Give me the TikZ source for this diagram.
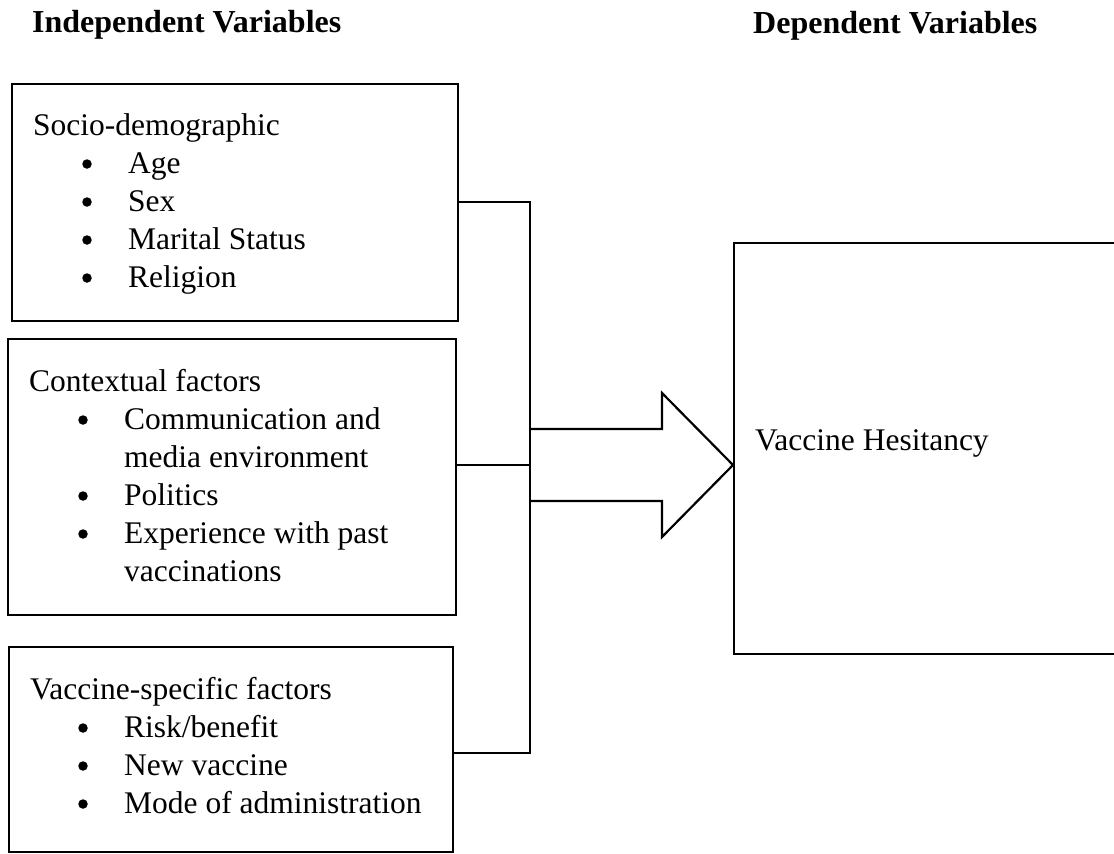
\documentclass[tikz,border=0pt]{standalone}
\usepackage{fontspec}
\setmainfont{Liberation Serif}
\tikzset{
  box/.style={draw, line width=2.2pt, inner sep=0pt, anchor=north west},
  txt/.style={inner sep=0pt, anchor=base west, font=\fontsize{31.5}{38}\selectfont},
  ttl/.style={inner sep=0pt, anchor=base west, font=\fontsize{32}{38}\selectfont\bfseries},
  bul/.style={circle, fill, inner sep=0pt, minimum size=9.5pt},
  conn/.style={line width=1.2pt},
  bigarrow/.style={draw, line width=2.2pt, line join=miter}
}
\begin{document}
\begin{tikzpicture}[x=1pt, y=-1pt]
\useasboundingbox (0,0) rectangle (1114,854);
% titles
\node[ttl] (ti) at (32,32) {Independent Variables};
\node[ttl] (td) at (753,33) {Dependent Variables};
% boxes
\node[box, minimum width=446pt, minimum height=237pt] (b1) at (11,83) {};
\node[box, minimum width=448pt, minimum height=276pt] (b2) at (7,338) {};
\node[box, minimum width=444pt, minimum height=205pt] (b3) at (8,646) {};
\node[box, minimum width=390pt, minimum height=411pt] (dv) at (733,242) {};
% box 1 text
\node[txt] (s0) at (33,135) {Socio-demographic};
\node[bul] (s1b) at (87,164) {}; \node[txt] (s1) at (128,173) {Age};
\node[bul] (s2b) at (87,202) {}; \node[txt] (s2) at (128,211) {Sex};
\node[bul] (s3b) at (87,240) {}; \node[txt] (s3) at (128,249) {Marital Status};
\node[bul] (s4b) at (87,278) {}; \node[txt] (s4) at (128,287) {Religion};
% box 2 text
\node[txt] (c0) at (29,391) {Contextual factors};
\node[bul] (c1b) at (83,420) {}; \node[txt] (c1) at (124,429) {Communication and};
\node[txt] (c1x) at (124,467) {media environment};
\node[bul] (c2b) at (83,496) {}; \node[txt] (c2) at (124,505) {Politics};
\node[bul] (c3b) at (83,534) {}; \node[txt] (c3) at (124,543) {Experience with past};
\node[txt] (c3x) at (124,581) {vaccinations};
% box 3 text
\node[txt] (v0) at (30,699) {Vaccine-specific factors};
\node[bul] (v1b) at (83,728) {}; \node[txt] (v1) at (124,737) {Risk/benefit};
\node[bul] (v2b) at (83,766) {}; \node[txt] (v2) at (124,775) {New vaccine};
\node[bul] (v3b) at (83,804) {}; \node[txt] (v3) at (124,813) {Mode of administration};
% dependent text
\node[txt] (vh) at (755,450) {Vaccine Hesitancy};
% connectors
\coordinate (jt) at (530,202);
\coordinate (jm) at (530,465);
\coordinate (jb) at (530,753);
\draw[conn] (b1.east |- jt) -- (jt) -- (jb) -- (b3.east |- jb);
\draw[conn] (b2.east |- jm) -- (jm);
% block arrow
\draw[bigarrow] (jm) ++(0,-36) -- ++(132,0) -- ++(0,-36) -- (dv.west |- jm) -- ++(-71,72) -- ++(0,-36) -- ++(-132,0);
\end{tikzpicture}
\end{document}
